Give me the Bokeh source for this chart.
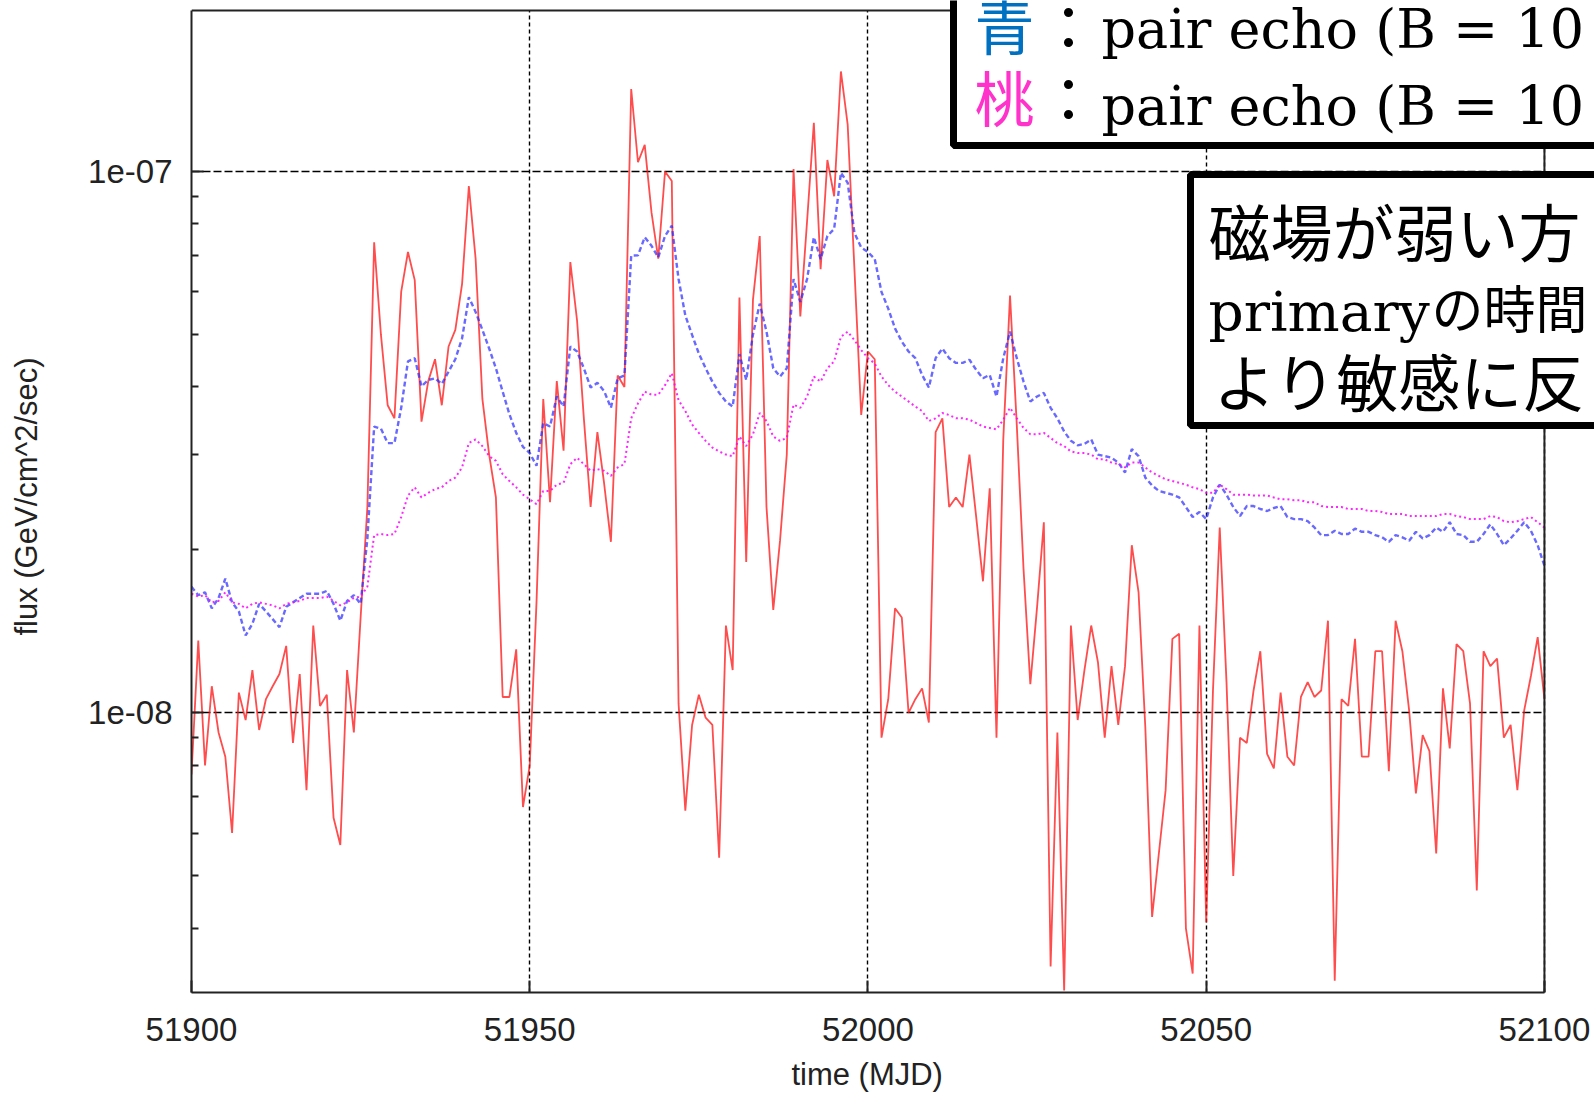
from bokeh.plotting import figure
from bokeh.models import (Range1d, FixedTicker, CustomJSTickFormatter,
                          BoxAnnotation, Label)
from bokeh.embed import file_html
from bokeh.resources import INLINE

# ---------------- data (flux values in units of 1e-8 GeV/cm^2/sec) ----------------
FLUX_UNIT = 1e-8
days = list(range(51900, 52101))

primary_flux = [
    0.77, 1.36, 0.80, 1.12, 0.92, 0.83, 0.60, 1.09, 0.97, 1.20,
    0.93, 1.06, 1.12, 1.18, 1.33, 0.88, 1.18, 0.72, 1.45, 1.03,
    1.08, 0.64, 0.57, 1.20, 0.92, 1.50, 2.40, 7.40, 5.00, 3.70,
    3.50, 6.00, 7.10, 6.30, 3.45, 4.10, 4.50, 3.70, 4.75, 5.10,
    6.20, 9.40, 6.90, 3.80, 3.00, 2.50, 1.07, 1.07, 1.31, 0.67,
    0.80, 1.60, 3.80, 2.45, 4.10, 3.05, 6.80, 5.30, 3.50, 2.40,
    3.30, 2.65, 2.07, 4.20, 4.00, 14.2, 10.4, 11.2, 8.40, 6.90,
    10.0, 9.60, 1.04, 0.66, 0.95, 1.08, 0.98, 0.95, 0.54, 1.45,
    1.20, 5.85, 1.90, 5.80, 7.60, 2.40, 1.55, 2.08, 3.00, 10.1,
    5.40, 8.10, 12.3, 6.60, 10.5, 9.00, 15.3, 12.2, 6.60, 3.55,
    4.65, 4.50, 0.90, 1.06, 1.56, 1.50, 1.00, 1.06, 1.11, 0.96,
    3.30, 3.50, 2.40, 2.50, 2.40, 3.00, 2.30, 1.75, 2.60, 0.90,
    3.20, 5.90, 3.40, 1.84, 1.13, 1.57, 2.25, 0.34, 0.92, 0.307,
    1.45, 0.97, 1.20, 1.45, 1.24, 0.90, 1.22, 0.95, 1.22, 2.04,
    1.67, 0.94, 0.42, 0.55, 0.72, 1.37, 1.40, 0.40, 0.33, 1.45,
    0.41, 1.10, 2.20, 1.14, 0.50, 0.90, 0.88, 1.10, 1.30, 0.84,
    0.79, 1.09, 0.83, 0.80, 1.07, 1.14, 1.07, 1.10, 1.48, 0.32,
    1.06, 1.03, 1.37, 0.83, 0.83, 1.30, 1.30, 0.78, 1.48, 1.30,
    1.01, 0.71, 0.91, 0.85, 0.55, 1.11, 0.86, 1.34, 1.30, 1.04,
    0.47, 1.30, 1.22, 1.26, 0.90, 0.95, 0.72, 1.01, 1.17, 1.38,
    1.06,
]

echo_blue = [
    1.71, 1.65, 1.67, 1.56, 1.63, 1.77, 1.60, 1.54, 1.39, 1.46,
    1.59, 1.54, 1.49, 1.44, 1.57, 1.60, 1.63, 1.66, 1.66, 1.66,
    1.68, 1.59, 1.48, 1.61, 1.65, 1.59, 2.10, 3.38, 3.35, 3.15,
    3.15, 3.66, 4.46, 4.52, 4.01, 4.12, 4.15, 4.05, 4.27, 4.50,
    4.92, 5.86, 5.50, 5.10, 4.71, 4.33, 3.92, 3.56, 3.29, 3.10,
    3.02, 2.86, 3.43, 3.38, 3.84, 3.68, 4.75, 4.65, 4.33, 3.99,
    4.07, 3.93, 3.66, 4.15, 4.20, 6.99, 7.00, 7.56, 7.29, 6.94,
    7.60, 7.94, 6.33, 5.42, 4.99, 4.61, 4.33, 4.09, 3.90, 3.76,
    3.68, 4.60, 4.12, 5.00, 5.70, 5.06, 4.33, 4.18, 4.33, 6.33,
    5.74, 6.33, 7.56, 6.89, 7.60, 7.83, 9.94, 9.53, 7.70, 7.24,
    7.10, 6.89, 5.99, 5.58, 5.13, 4.85, 4.65, 4.52, 4.21, 3.99,
    4.52, 4.71, 4.52, 4.43, 4.43, 4.49, 4.30, 4.15, 4.21, 3.84,
    4.52, 5.06, 4.52, 4.09, 3.76, 3.84, 3.90, 3.66, 3.50, 3.31,
    3.18, 3.12, 3.14, 3.20, 3.00, 2.98, 2.96, 2.90, 2.78, 3.07,
    2.98, 2.72, 2.63, 2.57, 2.55, 2.53, 2.50, 2.40, 2.30, 2.35,
    2.28, 2.50, 2.64, 2.53, 2.40, 2.31, 2.41, 2.41, 2.38, 2.36,
    2.39, 2.41, 2.30, 2.28, 2.28, 2.26, 2.20, 2.13, 2.13, 2.17,
    2.14, 2.14, 2.19, 2.16, 2.16, 2.13, 2.11, 2.07, 2.13, 2.11,
    2.08, 2.16, 2.10, 2.13, 2.20, 2.16, 2.25, 2.14, 2.13, 2.07,
    2.07, 2.14, 2.23, 2.14, 2.04, 2.10, 2.17, 2.25, 2.17, 2.04,
    1.87,
]

echo_pink = [
    1.66, 1.64, 1.65, 1.60, 1.61, 1.67, 1.60, 1.59, 1.56, 1.59,
    1.60, 1.59, 1.58, 1.56, 1.59, 1.60, 1.61, 1.63, 1.63, 1.63,
    1.64, 1.61, 1.58, 1.60, 1.63, 1.64, 1.71, 2.13, 2.14, 2.13,
    2.14, 2.30, 2.52, 2.61, 2.50, 2.55, 2.59, 2.61, 2.68, 2.72,
    2.84, 3.15, 3.20, 3.11, 2.98, 2.92, 2.76, 2.68, 2.61, 2.53,
    2.48, 2.43, 2.57, 2.57, 2.64, 2.66, 2.88, 2.96, 2.88, 2.80,
    2.82, 2.80, 2.74, 2.84, 2.88, 3.50, 3.73, 3.92, 3.87, 3.87,
    4.03, 4.24, 3.78, 3.61, 3.41, 3.29, 3.18, 3.09, 3.04, 3.00,
    2.98, 3.24, 3.11, 3.27, 3.58, 3.46, 3.24, 3.18, 3.22, 3.71,
    3.66, 3.84, 4.18, 4.09, 4.33, 4.46, 4.95, 5.06, 4.88, 4.68,
    4.52, 4.42, 4.18, 4.03, 3.92, 3.84, 3.76, 3.68, 3.61, 3.46,
    3.50, 3.58, 3.55, 3.50, 3.50, 3.48, 3.43, 3.38, 3.36, 3.34,
    3.48, 3.66, 3.50, 3.36, 3.27, 3.27, 3.29, 3.22, 3.15, 3.11,
    3.04, 3.02, 3.02, 3.00, 2.94, 2.94, 2.90, 2.88, 2.84, 2.90,
    2.90, 2.84, 2.78, 2.74, 2.70, 2.68, 2.66, 2.64, 2.61, 2.59,
    2.55, 2.55, 2.64, 2.59, 2.53, 2.53, 2.53, 2.52, 2.52, 2.52,
    2.50, 2.48, 2.48, 2.47, 2.47, 2.45, 2.45, 2.41, 2.40, 2.40,
    2.40, 2.38, 2.38, 2.38, 2.36, 2.36, 2.35, 2.33, 2.33, 2.33,
    2.31, 2.31, 2.31, 2.31, 2.31, 2.33, 2.33, 2.31, 2.30, 2.28,
    2.28, 2.28, 2.31, 2.30, 2.26, 2.25, 2.26, 2.28, 2.30, 2.25,
    2.20,
]

x_ticks = [51900, 51950, 52000, 52050, 52100]
y_ticks = [1e-8, 1e-7]
y_minor_ticks = [4e-9, 5e-9, 6e-9, 7e-9, 8e-9, 9e-9,
                 2e-8, 3e-8, 4e-8, 5e-8, 6e-8, 7e-8, 8e-8, 9e-8]

# axis limits of the plotted box, and the (slightly larger) drawing frame
X_MIN, X_MAX = 51900, 52100
Y_MIN, Y_MAX = 3.045e-9, 1.983e-7
FRAME_X_END = 52107.4
FRAME_Y_TOP = 2.069e-7

legend_rows = [("青", "#0070C0"), ("桃", "#FF33CC")]
legend_text = "pair echo (B = 10"
note_line1 = "磁場が弱い方"
note_line2a = "primary"
note_line2b = "の時間"
note_line3 = "より敏感に反"
x_label = "time (MJD)"
y_label = "flux (GeV/cm^2/sec)"

red_vals = [v * FLUX_UNIT for v in primary_flux]
blue_vals = [v * FLUX_UNIT for v in echo_blue]
pink_vals = [v * FLUX_UNIT for v in echo_pink]

# ---------------- figure ----------------
p = figure(width=1594, height=1094, y_axis_type="log",
           x_range=Range1d(X_MIN, FRAME_X_END),
           y_range=Range1d(Y_MIN, FRAME_Y_TOP),
           output_backend="svg", toolbar_location=None,
           min_border_left=191, min_border_right=0,
           min_border_top=0, min_border_bottom=96)
p.outline_line_color = None
p.background_fill_color = "white"
p.border_fill_color = "white"

SANS = "Liberation Sans"
INK = "#222222"

xt = FixedTicker(ticks=x_ticks, minor_ticks=[])
yt = FixedTicker(ticks=y_ticks, minor_ticks=y_minor_ticks)
yfmt = CustomJSTickFormatter(code="""
const e = Math.round(Math.log10(tick));
return '1e-0' + (-e);
""")

xa = p.xaxis[0]
ya = p.yaxis[0]
xa.ticker = xt
ya.ticker = yt
ya.formatter = yfmt
xa.bounds = (X_MIN, X_MAX)
ya.bounds = (Y_MIN, Y_MAX)
# the frame is wider than the axis; trailing no-break spaces keep the
# label centred under the axis itself
xa.axis_label = x_label + "\u00a0" * 6
ya.axis_label = y_label

for ax in (xa, ya):
    ax.axis_line_color = INK
    ax.axis_line_width = 2
    ax.major_tick_line_color = INK
    ax.major_tick_line_width = 2
    ax.minor_tick_line_color = INK
    ax.minor_tick_line_width = 2
    ax.major_tick_in = 12
    ax.major_tick_out = 0
    ax.minor_tick_in = 7
    ax.minor_tick_out = 0
    ax.major_label_text_font = SANS
    ax.major_label_text_font_size = "33px"
    ax.major_label_text_color = INK
    ax.axis_label_text_font = SANS
    ax.axis_label_text_font_size = "31px"
    ax.axis_label_text_font_style = "normal"
    ax.axis_label_text_color = INK

xa.major_label_standoff = 25
xa.axis_label_standoff = 13
ya.major_label_standoff = 19
ya.axis_label_standoff = 41

p.xgrid.grid_line_color = "black"
p.xgrid.grid_line_dash = "4 3"
p.xgrid.grid_line_width = 1.4
p.ygrid.grid_line_color = "black"
p.ygrid.grid_line_dash = "8 3"
p.ygrid.grid_line_width = 1.4
need_mask = False
try:
    p.xgrid.cross_bounds = (Y_MIN, Y_MAX)
    p.ygrid.cross_bounds = (X_MIN, X_MAX)
except Exception:
    need_mask = True

# ---------------- series ----------------
p.line(days, red_vals, line_color="#ff1010", line_width=1.8, line_alpha=0.75)
p.line(days, blue_vals, line_color="#2a2aff", line_width=2.4,
       line_dash="5 3", line_alpha=0.7)
p.line(days, pink_vals, line_color="#ff00ff", line_width=2.0,
       line_dash="2 3", line_alpha=0.85)

# frame border on the top and right sides (at the axis limits)
p.segment(x0=[X_MIN, X_MAX], y0=[Y_MAX, Y_MIN], x1=[X_MAX, X_MAX], y1=[Y_MAX, Y_MAX],
          line_color=INK, line_width=2)

if need_mask:
    p.add_layout(BoxAnnotation(left=X_MAX, right=FRAME_X_END + 10, fill_color="white",
                               fill_alpha=1.0, line_color=None))
    p.add_layout(BoxAnnotation(bottom=Y_MAX, top=FRAME_Y_TOP * 1.5, fill_color="white",
                               fill_alpha=1.0, line_color=None))
    p.segment(x0=[X_MIN, X_MAX], y0=[Y_MAX, Y_MIN], x1=[X_MAX, X_MAX], y1=[Y_MAX, Y_MAX],
              line_color=INK, line_width=2, level="annotation")

# ---------------- annotation boxes (screen units, relative to frame) ----------------
box_legend = BoxAnnotation(left=762, right=1500, bottom=847, top=1100,
                           left_units="screen", right_units="screen",
                           bottom_units="screen", top_units="screen",
                           fill_color="white", fill_alpha=1.0,
                           line_color="black", line_width=7, line_alpha=1.0)
box_note = BoxAnnotation(left=999, right=1500, bottom=567, top=818,
                         left_units="screen", right_units="screen",
                         bottom_units="screen", top_units="screen",
                         fill_color="white", fill_alpha=1.0,
                         line_color="black", line_width=7, line_alpha=1.0)
p.add_layout(box_legend)
p.add_layout(box_note)

CJK = "Noto Sans CJK JP"
SERIF = "DejaVu Serif"

for i, (kanji, col) in enumerate(legend_rows):
    yc = 969 - 72 * i
    p.add_layout(Label(x=813, y=yc, x_units="screen", y_units="screen",
                       text=kanji, text_color=col, text_font=CJK,
                       text_font_size="60px", text_align="center",
                       text_baseline="middle"))
    p.add_layout(Label(x=877, y=yc, x_units="screen", y_units="screen",
                       text="：", text_color="black", text_font=CJK,
                       text_font_size="60px", text_align="center",
                       text_baseline="middle"))
    p.add_layout(Label(x=910, y=963 - 77 * i, x_units="screen", y_units="screen",
                       text=legend_text, text_color="black",
                       text_font=SERIF, text_font_size="54px",
                       text_align="left", text_baseline="alphabetic"))

p.add_layout(Label(x=1017, y=763, x_units="screen", y_units="screen",
                   text=note_line1, text_color="black", text_font=CJK,
                   text_font_size="62px", text_align="left",
                   text_baseline="middle"))
p.add_layout(Label(x=1017, y=681, x_units="screen", y_units="screen",
                   text=note_line2a, text_color="black", text_font=SERIF,
                   text_font_size="55px", text_align="left",
                   text_baseline="alphabetic"))
p.add_layout(Label(x=1240, y=686, x_units="screen", y_units="screen",
                   text=note_line2b, text_color="black", text_font=CJK,
                   text_font_size="52px", text_align="left",
                   text_baseline="middle"))
p.add_layout(Label(x=1022, y=613, x_units="screen", y_units="screen",
                   text=note_line3, text_color="black", text_font=CJK,
                   text_font_size="62px", text_align="left",
                   text_baseline="middle"))

open("out.html", "w").write(file_html(p, INLINE))
